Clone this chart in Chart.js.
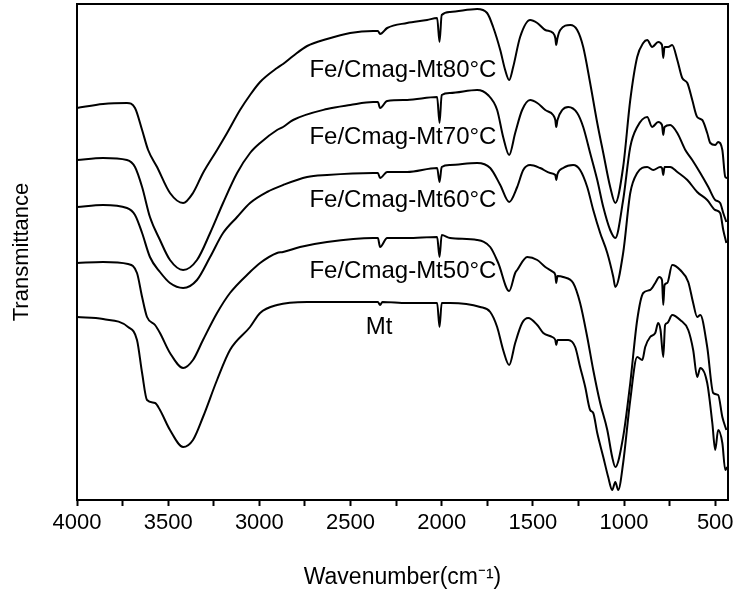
<!DOCTYPE html>
<html>
<head>
<meta charset="utf-8">
<script src="https://cdn.jsdelivr.net/npm/chart.js@4.4.1/dist/chart.umd.min.js"></script>
<style>
  body { margin: 0; background: #fff; }
  canvas { display: block; }
</style>
</head>
<body>
<canvas id="ftirChart" width="741" height="591"></canvas>
<script>
// series names, top to bottom
const seriesNames = ['Fe/Cmag-Mt80°C', 'Fe/Cmag-Mt70°C', 'Fe/Cmag-Mt60°C', 'Fe/Cmag-Mt50°C', 'Mt'];

// wavenumbers (cm-1) and stacked transmittance (arb. units)
const wn80 = [4000,3857,3726,3682,3643,3610,3561,3490,3418,3364,3309,3232,3177,3106,3051,2996,2903,2870,2815,2738,2629,2502,2376,2350,2338,2299,2190,2080,2025,2012,2000,1954,1806,1751,1718,1679,1652,1630,1608,1570,1515,1476,1432,1389,1377,1372,1365,1350,1295,1257,1224,1186,1147,1114,1076,1048,1005,966,928,895,873,846,813,792,785,778,758,736,708,681,653,626,599,571,544,527,500,484,461,445,434];
const t80 = [392,396,397,392,370,350,333,307,297,307,327,350,367,390,405,418,432,436,444,454,461,467,469,469,466,472,477,480,482,458,485,488,491,487,473,450,430,420,433,463,480,477,470,467,462,455,462,470,475,470,453,417,377,347,313,297,333,400,443,457,460,453,458,455,442,453,453,455,440,422,417,400,383,380,367,357,355,358,350,323,322];

const wn70 = [4000,3857,3726,3682,3643,3600,3545,3490,3418,3342,3270,3199,3122,3051,2996,2903,2870,2815,2629,2502,2376,2350,2338,2299,2190,2025,2012,2000,1954,1806,1746,1696,1663,1630,1597,1559,1515,1476,1432,1389,1377,1372,1365,1339,1306,1257,1224,1186,1147,1114,1076,1048,1005,966,928,873,846,813,792,785,778,747,708,664,626,582,538,500,473,456,439];
const t70 = [340,342,340,333,313,283,260,240,230,240,267,297,327,347,357,370,373,380,391,395,398,398,392,399,400,403,377,405,407,410,405,390,363,345,367,390,400,397,390,385,380,373,380,390,393,387,373,347,320,293,270,262,300,353,373,383,373,378,375,365,373,375,367,350,340,327,313,300,297,287,278];

const wn60 = [4000,3857,3726,3682,3643,3600,3545,3490,3418,3342,3270,3199,3122,3051,2958,2870,2738,2629,2376,2350,2338,2299,2190,2025,2012,2000,1954,1806,1734,1679,1630,1586,1553,1515,1460,1405,1377,1372,1365,1334,1279,1241,1202,1169,1131,1092,1059,1048,1005,966,928,873,840,802,792,785,778,747,708,653,599,544,500,473,456,439];
const t60 = [293,295,292,285,267,243,228,217,212,220,243,267,283,297,308,315,323,325,327,327,322,328,328,332,318,333,335,337,332,315,298,313,330,335,332,327,325,320,326,332,335,330,313,290,267,247,223,213,247,307,327,333,330,333,332,325,333,333,328,320,308,300,290,287,270,257];

const wn50 = [4000,3857,3720,3671,3643,3616,3572,3545,3490,3418,3364,3309,3232,3161,3051,2996,2903,2870,2777,2629,2376,2350,2338,2299,2190,2025,2012,2000,1954,1806,1734,1690,1630,1597,1586,1531,1476,1432,1389,1377,1372,1365,1334,1279,1241,1202,1169,1131,1092,1065,1048,1005,966,928,895,857,829,807,792,785,778,763,736,692,648,621,599,582,544,511,484,461,439];
const t50 = [237,238,236,227,203,183,175,167,147,132,140,160,187,207,228,237,247,248,253,258,262,262,253,262,262,263,243,265,262,260,253,237,209,227,230,243,240,233,228,225,217,224,223,217,197,163,130,97,70,43,33,63,117,180,207,210,217,223,220,195,215,217,235,230,218,197,183,185,153,107,105,83,70];

const wnMt = [4000,3857,3720,3671,3643,3616,3572,3545,3490,3418,3364,3309,3232,3161,3051,2996,2903,2738,2502,2350,2338,2325,2190,2025,2012,2000,1954,1789,1734,1696,1663,1630,1597,1559,1526,1476,1443,1394,1377,1372,1365,1339,1306,1268,1241,1213,1186,1169,1147,1114,1087,1065,1048,1032,1005,966,928,900,884,857,829,813,800,785,775,763,736,692,648,621,599,582,544,516,500,484,461,445,434];
const tMt = [183,181,173,160,127,100,97,90,70,53,60,83,120,150,173,187,195,198,198,198,195,198,197,197,173,197,197,193,188,173,150,135,157,177,182,175,167,163,160,155,160,160,160,153,133,113,90,87,67,43,23,10,18,10,37,100,143,140,153,163,167,177,170,143,175,177,185,180,170,150,123,132,117,77,50,70,57,30,33];

const xTicks = [4000, 3500, 3000, 2500, 2000, 1500, 1000, 500];

const toPoints = (xs, ys) => xs.map((x, i) => ({ x: x, y: ys[i] }));
const allSeries = [[wn80, t80], [wn70, t70], [wn60, t60], [wn50, t50], [wnMt, tMt]];

const FONT = 'Arial, "Liberation Sans", sans-serif';

// frame on top/right plus the curve names
const framePlugin = {
    id: 'frameAndNames',
    afterDraw(chart, args, opts) {
        const { ctx, chartArea, scales } = chart;
        ctx.save();
        ctx.strokeStyle = '#000';
        ctx.lineWidth = 2;
        ctx.strokeRect(chartArea.left, chartArea.top, chartArea.right - chartArea.left, chartArea.bottom - chartArea.top);
        ctx.fillStyle = '#000';
        ctx.font = '24px ' + FONT;
        ctx.textBaseline = 'middle';
        opts.anchors.forEach((a, i) => {
            ctx.textAlign = a.align;
            ctx.fillText(seriesNames[i], scales.x.getPixelForValue(a.x), scales.y.getPixelForValue(a.y));
        });
        ctx.restore();
    }
};

const ctx = document.getElementById('ftirChart').getContext('2d');
const ftirChart = new Chart(ctx, {
    type: 'line',
    data: {
        datasets: allSeries.map((s, i) => ({
            label: seriesNames[i],
            data: toPoints(s[0], s[1]),
            borderColor: '#000',
            borderWidth: 2,
            pointRadius: 0,
            fill: false,
            cubicInterpolationMode: 'monotone'
        }))
    },
    options: {
        responsive: false,
        animation: false,
        layout: { padding: { top: 4, right: 13, left: 0, bottom: 0 } },
        plugins: {
            legend: { display: false },
            tooltip: { enabled: false },
            frameAndNames: {
                anchors: [
                    { x: 1700, y: 430, align: 'right' },
                    { x: 1700, y: 363, align: 'right' },
                    { x: 1700, y: 300, align: 'right' },
                    { x: 1700, y: 229, align: 'right' },
                    { x: 2343, y: 173, align: 'center' }
                ]
            }
        },
        scales: {
            x: {
                type: 'linear',
                reverse: true,
                min: 430,
                max: 4000,
                afterBuildTicks: (axis) => {
                    const ticks = [];
                    for (let v = 4000; v >= 500; v -= 250) ticks.push({ value: v });
                    axis.ticks = ticks;
                },
                afterFit: (scale) => { scale.height = 91; },
                ticks: {
                    color: '#000',
                    padding: 4,
                    maxRotation: 0,
                    autoSkip: false,
                    font: { family: FONT, size: 22 },
                    callback: (v) => xTicks.includes(v) ? String(v) : ''
                },
                grid: { display: true, drawOnChartArea: false, drawTicks: true, tickLength: 6, tickWidth: 2, tickColor: '#000' },
                border: { display: true, color: '#000', width: 2 },
                title: {
                    display: true,
                    text: 'Wavenumber(cm⁻¹)',
                    color: '#000',
                    font: { family: FONT, size: 23 },
                    padding: { top: 0, bottom: 0 }
                }
            },
            y: {
                type: 'linear',
                min: 0,
                max: 496,
                afterFit: (scale) => { scale.width = 77; },
                ticks: { display: false },
                grid: { display: false },
                border: { display: true, color: '#000', width: 2 },
                title: {
                    display: true,
                    text: 'Transmittance',
                    color: '#000',
                    font: { family: FONT, size: 22 },
                    padding: { top: 9, bottom: 0 }
                }
            }
        }
    },
    plugins: [framePlugin]
});
</script>
</body>
</html>
